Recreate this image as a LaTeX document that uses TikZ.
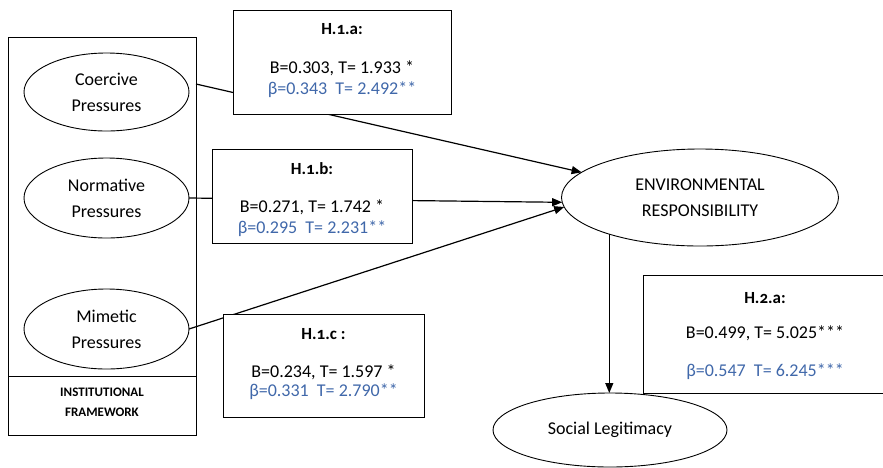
\documentclass[tikz,border=0pt]{standalone}
\usepackage{fontspec}
\setmainfont{Carlito}
\usetikzlibrary{shapes.geometric,arrows.meta}
\definecolor{betablue}{RGB}{64,104,170}

\begin{document}
\begin{tikzpicture}[x=1pt,y=-1pt,
  every node/.style={inner sep=0pt, outer sep=0pt},
  lbl/.style={font=\fontsize{18}{26}\selectfont, align=center},
  oval/.style={ellipse, draw, line width=0.9pt, lbl},
  hbox/.style={draw, fill=white, line width=0.9pt, anchor=north west},
  htitle/.style={anchor=base, font=\fontsize{17}{20}\selectfont\bfseries\addfontfeature{Numbers=OldStyle}},
  hval/.style={anchor=base, font=\fontsize{18}{21}\selectfont},
  hbeta/.style={hval, text=betablue},
  link/.style={line width=1.2pt},
  arrow/.style={link, -{Triangle[length=10pt,width=8pt]}}
]
\useasboundingbox (0,0) rectangle (883,467);
\clip (0,0) rectangle (883,467);

% institutional framework frame with its caption cell
\node[draw, line width=0.9pt, anchor=north west, minimum width=188pt, minimum height=398pt] (frame) at (8,37) {};
\draw[line width=0.9pt] (8,376) -- (196,376);
\node[font=\fontsize{13}{20}\selectfont\bfseries, align=center] (fwlabel) at (102,402) {INSTITUTIONAL\\FRAMEWORK};

% the three pressures
\node[oval, minimum width=165pt, minimum height=78pt] (coer) at (106.5,92) {Coercive\\Pressures};
\node[oval, minimum width=165pt, minimum height=80pt] (norm) at (106.5,198) {Normative\\Pressures};
\node[oval, minimum width=165pt, minimum height=80pt] (mim) at (106.5,329) {Mimetic\\Pressures};

% outcomes
\node[oval, minimum width=277pt, minimum height=97pt] (env) at (700,197.5) {ENVIRONMENTAL\\RESPONSIBILITY};
\node[oval, minimum width=234pt, minimum height=74pt] (sl) at (610,430) {Social Legitimacy};

% paths (drawn before the coefficient boxes, which sit on top)
\coordinate (cstart) at (196,84);
\draw[arrow] (cstart) -- (env.168);
\draw[arrow] (norm.east) -- (env.182);
\draw[arrow] (mim.east) -- (env.184);
\draw[arrow] (env.202) -- (env.202 |- sl.north);

% coefficient boxes
\node[hbox, minimum width=218pt, minimum height=104pt] (h1a) at (233,10) {};
\node[htitle] (h1at) at (h1a.north |- 0,34) {H.1.a:};
\node[hval] (h1ab) at (h1a.north |- 0,73) {B=0.303, T= 1.933 *};
\node[hbeta] (h1ae) at (h1a.north |- 0,94) {β=0.343\ \ T= 2.492**};

\node[hbox, minimum width=200pt, minimum height=94pt] (h1b) at (212,149) {};
\node[htitle] (h1bt) at (h1b.north |- 0,174) {H.1.b:};
\node[hval] (h1bb) at (h1b.north |- 0,212) {B=0.271, T= 1.742 *};
\node[hbeta] (h1be) at (h1b.north |- 0,233) {β=0.295\ \ T= 2.231**};

\node[hbox, minimum width=201pt, minimum height=103pt] (h1c) at (223,314) {};
\node[htitle] (h1ct) at (h1c.north |- 0,339) {H.1.c :};
\node[hval] (h1cb) at (h1c.north |- 0,377) {B=0.234, T= 1.597 *};
\node[hbeta] (h1ce) at (h1c.north |- 0,396) {β=0.331\ \ T= 2.790**};

\node[hbox, minimum width=244pt, minimum height=118pt] (h2a) at (643,275) {};
\node[htitle] (h2at) at (h2a.north |- 0,303) {H.2.a:};
\node[hval] (h2ab) at (h2a.north |- 0,338) {B=0.499, T= 5.025***};
\node[hbeta] (h2ae) at (h2a.north |- 0,376) {β=0.547\ \ T= 6.245***};
\end{tikzpicture}
\end{document}
